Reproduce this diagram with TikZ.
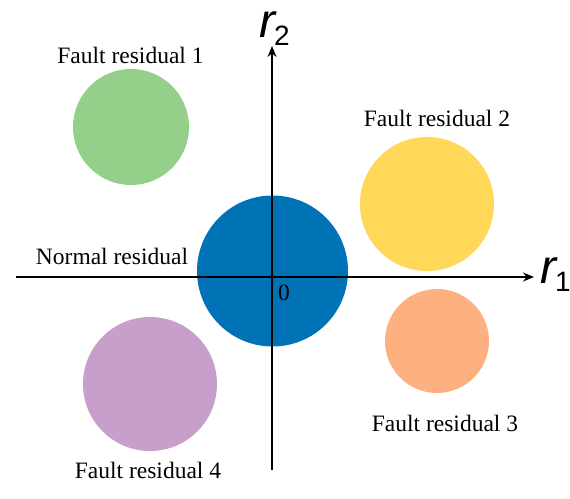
\documentclass[tikz,border=0pt]{standalone}
\usepackage{fontspec}
\setmainfont{Liberation Serif}
\newfontfamily\axfont{Liberation Sans}
\usetikzlibrary{arrows.meta}
\definecolor{cblue}{RGB}{0,114,182}
\definecolor{cgreen}{RGB}{148,208,138}
\definecolor{cyellow}{RGB}{255,216,90}
\definecolor{corange}{RGB}{253,176,128}
\definecolor{cpurple}{RGB}{200,158,202}
\begin{document}
\begin{tikzpicture}[x=1pt,y=-1pt,
  lbl/.style={font=\fontsize{23.5}{25}\selectfont,inner sep=0pt},
  axl/.style={font=\axfont\fontsize{48}{50}\selectfont,inner sep=0pt,anchor=base west},
  axis/.style={line width=1.4pt,-{Stealth[length=11pt,width=9pt]}}]
\useasboundingbox (0,0) rectangle (570,498);
\fill[cgreen] (131,127) circle (58);
\fill[cyellow] (427,204) circle (67);
\fill[corange] (437,341) circle (52);
\fill[cpurple] (150,384) circle (67);
\fill[cblue] (272.5,271) circle (75.5);
\coordinate (xs) at (16,277);
\coordinate (xe) at (534,277);
\coordinate (ys) at (272,470);
\coordinate (ye) at (272,46);
\draw[axis] (xs) -- (xe);
\draw[axis] (ys) -- (ye);
\node[axl] (r2) at (259,37) {\itshape r\kern-1pt\raisebox{-8pt}{\fontsize{28}{30}\selectfont\upshape 2}};
\node[axl] (r1) at (540,283) {\itshape r\kern-1pt\raisebox{-8pt}{\fontsize{28}{30}\selectfont\upshape 1}};
\node[lbl] (o) at (284,293) {0};
\node[lbl] (f1) at (130.5,55) {Fault residual 1};
\node[lbl] (f2) at (437,118) {Fault residual 2};
\node[lbl] (f3) at (445,423) {Fault residual 3};
\node[lbl] (f4) at (148,470) {Fault residual 4};
\node[lbl] (nr) at (112,256) {Normal residual};
\end{tikzpicture}
\end{document}
